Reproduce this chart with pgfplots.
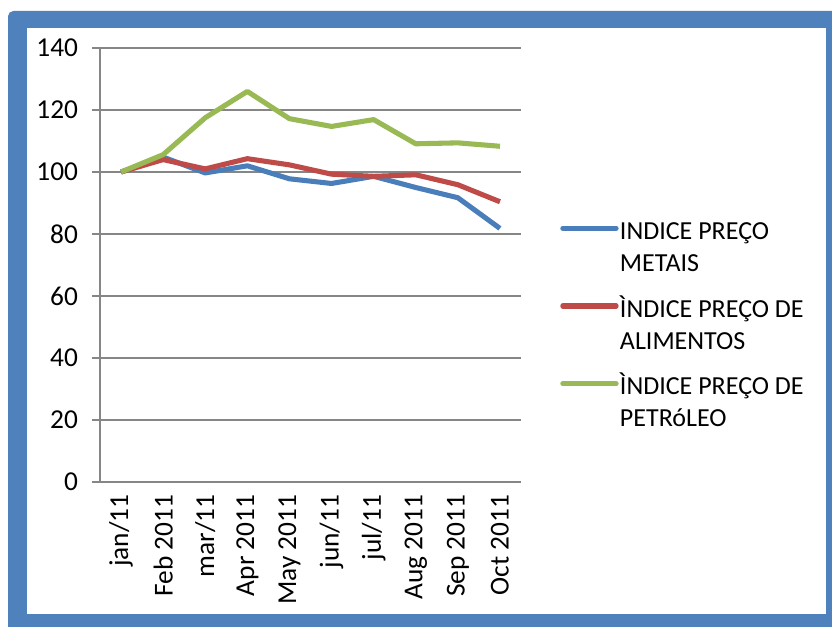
\documentclass[border=0pt]{standalone}
\usepackage{pgfplots}
\pgfplotsset{compat=1.18}
\usepackage{fontspec}
\setmainfont{Carlito}
\definecolor{frameblue}{HTML}{4F81BD}
\definecolor{sblue}{HTML}{4A7EBB}
\definecolor{sred}{HTML}{BE4B48}
\definecolor{sgreen}{HTML}{98B954}
\definecolor{gridgray}{HTML}{868686}
\begin{document}
\begin{tikzpicture}[x=0.75pt,y=0.75pt]
\path[use as bounding box] (0,0) rectangle (832,626);
\fill[frameblue,rounded corners=4pt] (8,-10) rectangle (840,615);
\fill[white] (27,12) rectangle (826,598);
\begin{axis}[
  at={(75pt,108pt)}, anchor=south west,
  scale only axis, width=315.75pt, height=325.5pt,
  xmin=-0.5, xmax=9.5, ymin=0, ymax=140,
  ytick={0,20,...,140},
  xtick={0,...,9},
  xticklabels={jan/11,Feb 2011,mar/11,Apr 2011,May 2011,jun/11,jul/11,Aug 2011,Sep 2011,Oct 2011},
  extra x ticks={-0.5,0.5,...,9.5}, extra x tick labels={},
  extra x tick style={major tick length=6pt, grid=none, tick style={draw=gridgray, line width=1pt}},
  major x tick style={draw=none},
  ymajorgrids, grid style={gridgray, line width=1pt},
  axis x line*=bottom, axis y line*=left,
  axis line style={gridgray, line width=1pt, -},
  tick align=outside, major tick length=6pt,
  tick style={gridgray, line width=1pt},
  every tick label/.append style={font=\fontsize{20.5}{24}\selectfont, text=black},
  /pgf/number format/assume math mode=true,
  xticklabel style={rotate=90, anchor=east},
  yticklabel style={xshift=-7pt},
  legend cell align=left,
  legend style={draw=none, fill=none, at={(1.0926,0.614)}, anchor=north west,
    font=\fontsize{19.5}{24}\selectfont, row sep=38pt, inner sep=0pt,
    nodes={inner sep=1pt}},
  legend image code/.code={\draw[#1, line cap=round] (0pt,0.08em) -- (40pt,0.08em);},
  every axis plot/.append style={line width=3.8pt, line join=round},
]
\addplot[sblue] coordinates {(0,100) (1,104.8) (2,99.7) (3,102) (4,97.8) (5,96.3) (6,98.6) (7,95) (8,91.7) (9,81.8)};
\addplot[sred] coordinates {(0,100) (1,104) (2,101) (3,104.3) (4,102.3) (5,99.3) (6,98.6) (7,99.1) (8,95.9) (9,90.4)};
\addplot[sgreen] coordinates {(0,100) (1,105.6) (2,117.5) (3,126) (4,117.2) (5,114.7) (6,116.9) (7,109.1) (8,109.4) (9,108.3)};
\legend{{\begin{tabular}[t]{@{}l@{}}INDICE PREÇO\\METAIS\end{tabular}},
        {\begin{tabular}[t]{@{}l@{}}ÌNDICE PREÇO DE\\ALIMENTOS\end{tabular}},
        {\begin{tabular}[t]{@{}l@{}}ÌNDICE PREÇO DE\\PETRóLEO\end{tabular}}}
\end{axis}
\end{tikzpicture}
\end{document}
